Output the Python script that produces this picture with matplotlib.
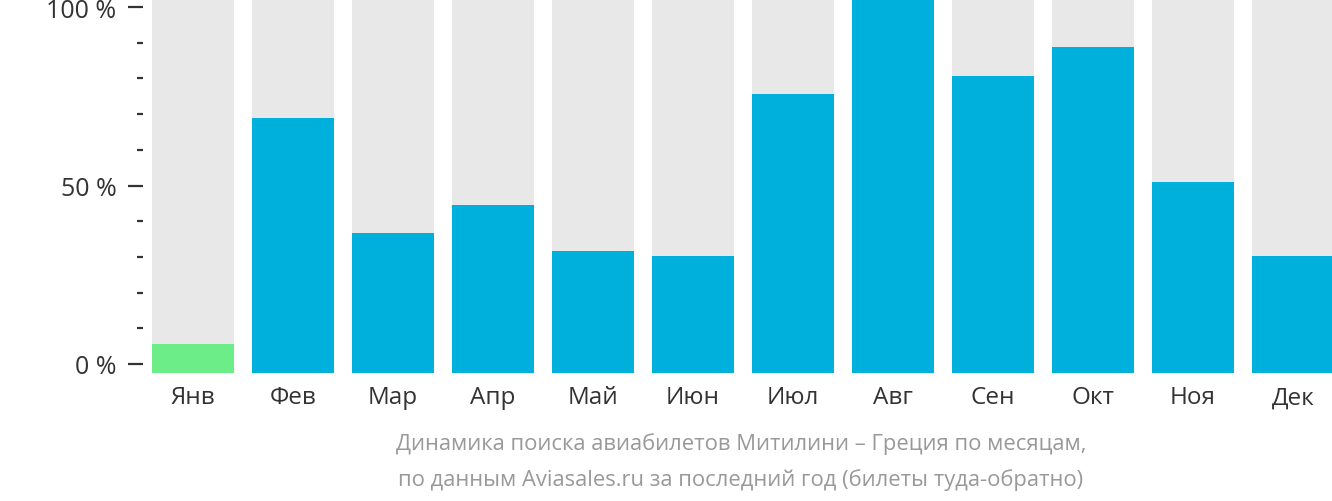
import matplotlib
matplotlib.use("Agg")
import matplotlib.pyplot as plt
import numpy as np

plt.rcParams['font.family'] = ['Open Sans', 'DejaVu Sans']

months = ['Янв', 'Фев', 'Мар', 'Апр', 'Май', 'Июн', 'Июл', 'Авг', 'Сен', 'Окт', 'Ноя', 'Дек']
values = [7.8, 68.2, 37.4, 44.9, 32.6, 31.3, 74.6, 100, 79.4, 87.2, 51.1, 31.3]
colors = ['#6ded87'] + ['#00b0dc'] * 11
caption = ("Динамика поиска авиабилетов Митилини – Греция по месяцам,\n"
           "по данным Aviasales.ru за последний год (билеты туда-обратно)")

W, H = 1332, 502
fig = plt.figure(figsize=(W / 100, H / 100), dpi=100)

# axes spans from y pixel 374 (bottom) to 0 (top), x from 143 to 1332
left, bottom = 143 / W, (H - 374) / H
ax = fig.add_axes([left, bottom, 1 - left, 374 / H])
x = np.arange(len(months))
ax.bar(x, [100] * len(months), width=0.82, color='#e8e8e8')
ax.bar(x, values, width=0.82, color=colors)
ax.set_xlim(-0.5, 11.39)
ax.set_ylim(0, 100)
for s in ax.spines.values():
    s.set_visible(False)
ax.set_yticks([])
ax.set_xticks(x)
ax.set_xticklabels(months, fontsize=17.5, color='#333333')
ax.tick_params(axis='x', length=0, pad=9)

# tick scale: 0 % at pixel 365, 100 % at pixel 8
ax2 = ax.twinx()
ax2.yaxis.tick_left()
ppu = (365 - 8) / 100
ax2.set_ylim(-(374 - 365) / ppu, 100 + 8 / ppu)
ax2.set_yticks([0, 50, 100])
ax2.set_yticklabels(['0 %', '50 %', '100 %'], fontsize=18, color='#333333')
ax2.set_yticks(np.arange(10, 100, 10), minor=True)
ax2.tick_params(axis='y', which='major', length=11, width=1.6, color='#333333', pad=8)
ax2.tick_params(axis='y', which='minor', length=4.5, width=1.6, color='#333333')
for s in ax2.spines.values():
    s.set_visible(False)

fig.text(741 / W, 1 - 462 / H, caption, ha='center', va='center',
         fontsize=15.8, color='#999999', linespacing=1.8)

fig.savefig('out.png', dpi=100)
